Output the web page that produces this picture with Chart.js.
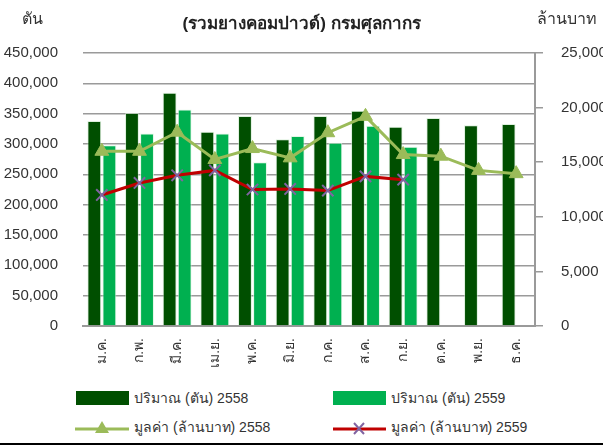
<!DOCTYPE html>
<html>
<head>
<meta charset="utf-8">
<script src="https://cdn.jsdelivr.net/npm/chart.js@4.4.0/dist/chart.umd.min.js"></script>
<style>
  body { margin: 0; width: 603px; height: 446px; overflow: hidden; background: #fff; font-family: "Liberation Sans", Arial, sans-serif; color: #333; position: relative; }
  #wrap { position: absolute; left: 0; top: 0; width: 640px; height: 380px; }
  .lbl { position: absolute; font-size: 16px; white-space: nowrap; }
  #title { position: absolute; left: 0; width: 603px; top: 9px; text-align: center; font-weight: bold; font-size: 17px; color: #222; }
  .leg { position: absolute; font-size: 14px; white-space: nowrap; display: flex; align-items: center; }
  .leg svg { margin-right: 5px; }
  #bottomline { position: absolute; left: 0; top: 443px; width: 603px; height: 0; border-top: 2px solid #000; }
</style>
</head>
<body>
<div id="wrap"><canvas id="c"></canvas></div>
<div id="title">(รวมยางคอมปาวด์) กรมศุลกากร</div>
<div class="lbl" style="left:22px; top:6px;">ตัน</div>
<div class="lbl" style="left:537px; top:6px;">ล้านบาท</div>

<div class="leg" style="left:76px; top:387px;">
  <svg width="53" height="14"><rect x="0" y="0" width="53" height="14" fill="#004f00"/></svg>ปริมาณ (ตัน) 2558
</div>
<div class="leg" style="left:333px; top:387px;">
  <svg width="53" height="14"><rect x="0" y="0" width="53" height="14" fill="#00b050"/></svg>ปริมาณ (ตัน) 2559
</div>
<div class="leg" style="left:75px; top:416px;">
  <svg width="54" height="18"><line x1="0" y1="11" x2="54" y2="11" stroke="#9bbb59" stroke-width="3"/><polygon points="27,3 34,15 20,15" fill="#9bbb59"/></svg>มูลค่า (ล้านบาท) 2558
</div>
<div class="leg" style="left:333px; top:416px;">
  <svg width="53" height="18"><line x1="0" y1="11" x2="53" y2="11" stroke="#c00000" stroke-width="3"/><path d="M21,5 L31,16 M31,5 L21,16" stroke="#8064a2" stroke-width="2"/></svg>มูลค่า (ล้านบาท) 2559
</div>
<div id="bottomline"></div>

<script>
const months = ["ม.ค.", "ก.พ.", "มี.ค.", "เม.ย.", "พ.ค.", "มิ.ย.", "ก.ค.", "ส.ค.", "ก.ย.", "ต.ค.", "พ.ย.", "ธ.ค."];
const qty2558 = [338000, 351000, 384500, 320000, 346000, 307700, 346000, 355000, 328500, 343000, 331000, 333000];
const qty2559 = [298000, 317500, 357000, 317500, 270000, 313000, 302000, 330000, 295500];
const val2558 = [16000, 16000, 17750, 15250, 16250, 15400, 17700, 19200, 15700, 15550, 14250, 13950];
const val2559 = [12000, 13100, 13800, 14250, 12500, 12550, 12400, 13700, 13400];

const grey = "#9a9a9a";
const tickFont = { family: "Liberation Sans, Arial, sans-serif", size: 15 };

new Chart(document.getElementById("c"), {
  type: "bar",
  data: {
    labels: months,
    datasets: [
      { label: "ปริมาณ (ตัน) 2558", data: qty2558, backgroundColor: "#004f00", borderColor: "rgba(200,230,200,0.6)", borderWidth: 1, order: 2, yAxisID: "y", barPercentage: 0.92, categoryPercentage: 0.8 },
      { label: "ปริมาณ (ตัน) 2559", data: qty2559, backgroundColor: "#00b050", borderColor: "rgba(220,245,225,0.8)", borderWidth: 1, order: 2, yAxisID: "y", barPercentage: 0.92, categoryPercentage: 0.8 },
      { type: "line", label: "มูลค่า (ล้านบาท) 2558", data: val2558, borderColor: "#9bbb59", backgroundColor: "#9bbb59", borderWidth: 3, pointStyle: "triangle", pointRadius: 8, pointBorderWidth: 1, order: 1, yAxisID: "y1", tension: 0 },
      { type: "line", label: "มูลค่า (ล้านบาท) 2559", data: val2559, borderColor: "#c00000", backgroundColor: "#8064a2", pointBorderColor: "#8064a2", borderWidth: 3, pointStyle: "cross", pointRotation: 45, pointRadius: 8, pointBorderWidth: 2, order: 0, yAxisID: "y1", tension: 0 }
    ]
  },
  options: {
    responsive: true,
    maintainAspectRatio: false,
    animation: false,
    layout: { padding: { top: 53, left: 0, right: 0, bottom: 0 } },
    plugins: { legend: { display: false }, tooltip: { enabled: false } },
    scales: {
      x: {
        grid: { display: false },
        border: { display: true, color: grey, width: 2 },
        ticks: { minRotation: 90, maxRotation: 90, padding: 4, color: "#333", font: { family: "Liberation Sans, Arial, sans-serif", size: 14 } },
        afterFit: s => { s.height = 54; }
      },
      y: {
        position: "left",
        min: 0, max: 450000,
        grid: { color: grey, lineWidth: 1.5, drawTicks: false },
        border: { display: false },
        ticks: { stepSize: 50000, padding: 25, color: "#333", font: tickFont, callback: v => v.toLocaleString("en-US") },
        afterFit: s => { s.width = 83; }
      },
      y1: {
        position: "right",
        min: 0, max: 25000,
        grid: { drawOnChartArea: false, drawTicks: true, tickLength: 8, color: grey, lineWidth: 1.5 },
        border: { display: true, color: grey, width: 2 },
        ticks: { stepSize: 5000, padding: 18, color: "#333", font: tickFont, callback: v => v.toLocaleString("en-US") },
        afterFit: s => { s.width = 105; }
      }
    }
  }
});
</script>
</body>
</html>
